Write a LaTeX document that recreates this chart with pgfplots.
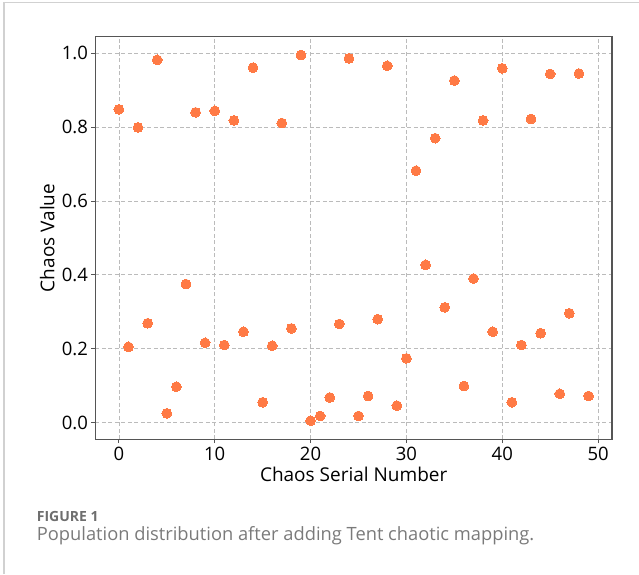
\documentclass[border=0pt]{standalone}
\usepackage{pgfplots}
\pgfplotsset{compat=1.18}
\usepackage{fontspec}
\setmainfont{Open Sans}
\definecolor{dotc}{HTML}{FF7A45}
\definecolor{framec}{HTML}{555555}
\definecolor{gridc}{HTML}{BBBBBB}
\definecolor{capc}{HTML}{7A7A7A}

\begin{document}
\begin{tikzpicture}[x=1pt,y=1pt]
\path[use as bounding box] (0,0) rectangle (639,574);
% light frame around the figure
\draw[line width=1.5pt, color=black!18] (4,0) -- (4,571.5) -- (639,571.5);

\begin{axis}[
    at={(95.4pt,134.8pt)}, anchor=south west,
    scale only axis,
    width=516.6pt, height=402.6pt,
    xmin=-2.45, xmax=51.45,
    ymin=-0.045, ymax=1.045,
    xtick={0,10,20,30,40,50},
    ytick={0,0.2,0.4,0.6,0.8,1.0},
    yticklabel style={/pgf/number format/.cd, fixed, fixed zerofill, precision=1},
    /pgf/number format/assume math mode=true,
    ticklabel style={font=\fontsize{18.5}{21}\selectfont},
    tick align=outside, tick pos=left,
    major tick length=4pt,
    tick style={color=framec, line width=0.9pt},
    axis line style={color=framec, line width=1.2pt},
    grid=major,
    grid style={color=gridc, line width=0.7pt, dash pattern=on 4pt off 2.5pt},
    xlabel={Chaos Serial Number},
    ylabel={Chaos Value},
    label style={font=\fontsize{19}{22}\selectfont},
    xlabel style={at={(axis description cs:0.5,0)}, anchor=base, yshift=-42.5pt},
    ylabel style={at={(axis description cs:-0.093,0.5)}, anchor=center},
]
\addplot[only marks, color=dotc, mark=*, mark size=4.9pt, mark options={draw=dotc, fill=dotc, line width=0pt}]
coordinates {
(0,0.848) (1,0.205) (2,0.799) (3,0.269) (4,0.982)
(5,0.025) (6,0.097) (7,0.375) (8,0.840) (9,0.216)
(10,0.844) (11,0.210) (12,0.818) (13,0.246) (14,0.961)
(15,0.055) (16,0.208) (17,0.811) (18,0.255) (19,0.995)
(20,0.005) (21,0.018) (22,0.068) (23,0.267) (24,0.986)
(25,0.018) (26,0.072) (27,0.280) (28,0.966) (29,0.046)
(30,0.174) (31,0.682) (32,0.427) (33,0.770) (34,0.312)
(35,0.926) (36,0.099) (37,0.390) (38,0.818) (39,0.246)
(40,0.959) (41,0.055) (42,0.210) (43,0.822) (44,0.242)
(45,0.944) (46,0.078) (47,0.296) (48,0.945) (49,0.072)
};
\end{axis}

\node[anchor=base west, inner sep=0, text=capc!90!black,
      font=\bfseries\fontsize{14}{16}\selectfont] at (36.7,52.3) {FIGURE 1};
\node[anchor=base west, inner sep=0, text=capc,
      font=\fontsize{18.3}{21}\selectfont] at (36.7,34) {Population distribution after adding Tent chaotic mapping.};
\end{tikzpicture}
\end{document}
